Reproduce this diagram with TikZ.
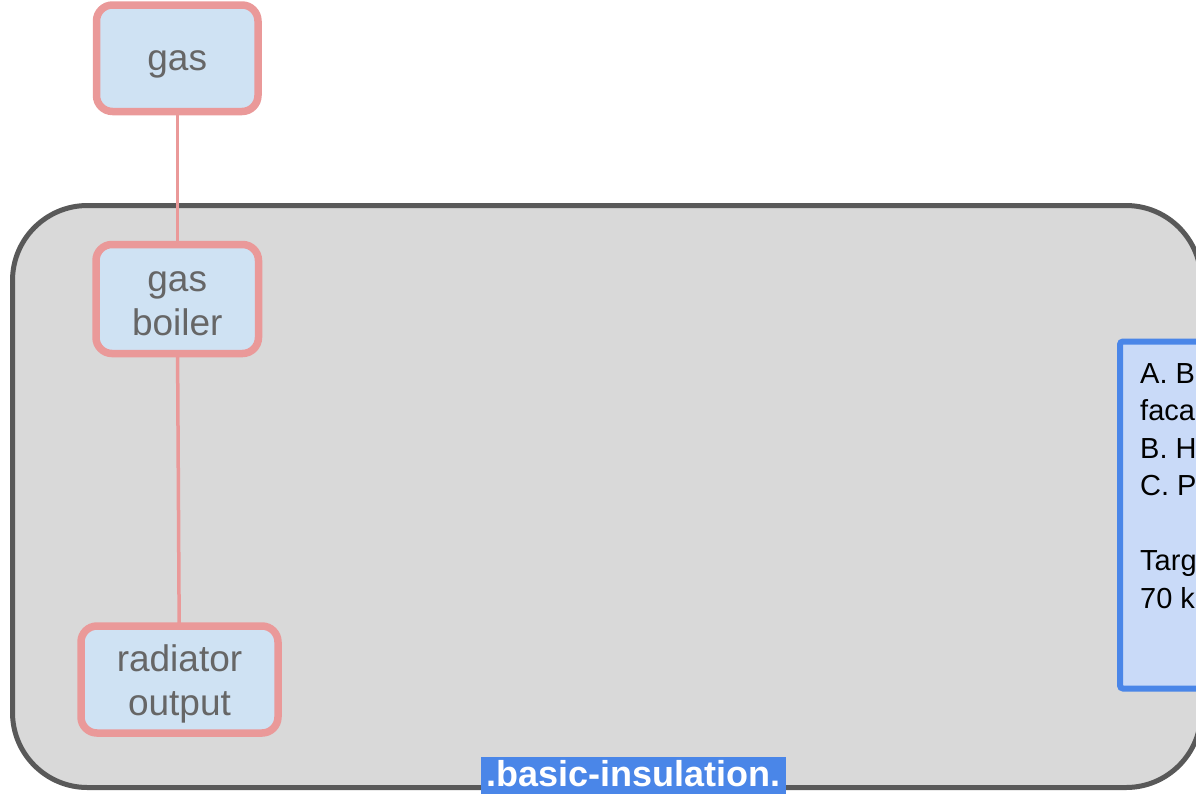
\documentclass[tikz,border=0pt]{standalone}
\usepackage{fontspec}
\setmainfont{Liberation Sans}
\definecolor{pinkline}{HTML}{EA9999}
\definecolor{procfill}{HTML}{CFE2F3}
\definecolor{graytext}{HTML}{666666}
\definecolor{contfill}{HTML}{D9D9D9}
\definecolor{contline}{HTML}{595959}
\definecolor{blueline}{HTML}{4A86E8}
\definecolor{bluefill}{HTML}{C9DAF8}
\tikzset{
  container/.style={draw=contline, fill=contfill, line width=5pt, rounded corners=75pt, rectangle, inner sep=0pt, outer sep=0pt, anchor=north west},
  proc/.style={draw=pinkline, fill=procfill, line width=7.5pt, rounded corners=16pt, rectangle, inner sep=0pt, outer sep=0pt, anchor=north west,
    text=graytext, align=center, font=\fontsize{37}{44}\selectfont, text depth=0pt, text height=72pt},
  conn/.style={draw=pinkline, line width=3.5pt},
  notebox/.style={draw=blueline, fill=bluefill, line width=6pt, rounded corners=3pt, rectangle, inner sep=0pt, outer sep=0pt, anchor=north west},
  notetext/.style={text=black, align=left, inner sep=0pt, font=\fontsize{29}{37.5}\selectfont},
  lbl/.style={fill=blueline, text=white, inner xsep=5pt, inner ysep=3pt, text depth=12pt, font=\fontsize{36}{40}\selectfont\bfseries}
}
\begin{document}
\begin{tikzpicture}[x=1pt,y=-1pt]
\useasboundingbox (0,0) rectangle (1196,793);
\clip (0,0) rectangle (1196,793);
\node[container, minimum width=1188.5pt, minimum height=582pt] (cont) at (12.5,205.5) {};
\node[proc, minimum width=161.5pt, minimum height=106.5pt, text height=25pt] (gas) at (96.5,5) {gas};
\node[proc, minimum width=162.5pt, minimum height=109pt] (boiler) at (96,244.5) {gas\\boiler};
\node[proc, minimum width=197pt, minimum height=107pt] (rad) at (81,626) {radiator\\output};
\draw[conn] (gas) -- (boiler);
\draw[conn] (boiler) -- (rad);
\node[notebox, minimum width=150pt, minimum height=347pt] (note) at (1120,341.5) {};
\node[notetext, anchor=base west] (notet) at (1140,608) {A. B\\faca\\B. H\\C. P\\\mbox{}\\Targ\\70 k};
\node[lbl, anchor=base] (lab) at (633.5,786) {.basic-insulation.};
\end{tikzpicture}
\end{document}
